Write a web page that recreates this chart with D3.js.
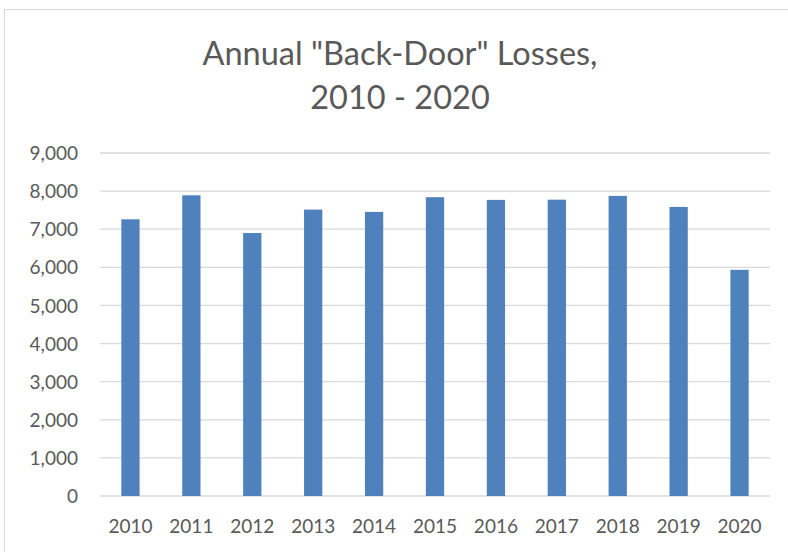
<!DOCTYPE html>
<html>
<head>
<meta charset="utf-8">
<script src="https://cdn.jsdelivr.net/npm/d3@7"></script>
<style>
  body { margin: 0; background: #fff; }
  svg text { font-family: Lato, "Open Sans", sans-serif; fill: #595959; }
</style>
</head>
<body>
<div id="chart"></div>
<script>
const years = ["2010", "2011", "2012", "2013", "2014", "2015", "2016", "2017", "2018", "2019", "2020"];
const losses = [7260, 7890, 6900, 7515, 7455, 7840, 7770, 7775, 7875, 7585, 5935];
const yTicks = [0, 1000, 2000, 3000, 4000, 5000, 6000, 7000, 8000, 9000];
const titleLines = ['Annual "Back-Door" Losses,', "2010 - 2020"];

const W = 788, H = 552;
const margin = { top: 153, right: 18, bottom: 56, left: 100 },
    width = W - margin.left - margin.right,
    height = H - margin.top - margin.bottom;

const root = d3.select("#chart")
    .append("svg")
    .attr("width", W)
    .attr("height", H);

// chart area frame
root.append("rect")
    .attr("x", 4.5).attr("y", 9.5)
    .attr("width", W + 10).attr("height", H + 10)
    .attr("fill", "none")
    .attr("stroke", "#d9d9d9");

root.selectAll("text.title")
    .data(titleLines)
    .enter().append("text")
    .attr("class", "title")
    .attr("x", 400)
    .attr("y", (d, i) => 65 + i * 44)
    .attr("text-anchor", "middle")
    .style("font-size", "32.5px")
    .text(d => d);

const svg = root.append("g")
    .attr("transform", `translate(${margin.left},${margin.top})`);

const x = d3.scaleBand().domain(years).range([0, width]).paddingInner(0.7).paddingOuter(0.35);
const y = d3.scaleLinear().domain([0, 9000]).range([height, 0]);

// gridlines
svg.selectAll("line.grid")
    .data(yTicks)
    .enter().append("line")
    .attr("x1", 0).attr("x2", width)
    .attr("y1", d => y(d)).attr("y2", d => y(d))
    .attr("stroke", "#d9d9d9")
    .attr("stroke-width", 1.3);

svg.selectAll("rect.bar")
    .data(losses)
    .enter().append("rect")
    .attr("class", "bar")
    .attr("x", (d, i) => x(years[i]))
    .attr("y", d => y(d))
    .attr("width", x.bandwidth())
    .attr("height", d => height - y(d))
    .attr("fill", "#4f81bd");

const yAxis = svg.append("g")
    .call(d3.axisLeft(y).tickValues(yTicks).tickFormat(d3.format(",")).tickSize(0).tickPadding(22));
yAxis.select(".domain").remove();
yAxis.selectAll("text").style("font-size", "19px").attr("dy", "0.35em");

const xAxis = svg.append("g")
    .attr("transform", `translate(0,${height})`)
    .call(d3.axisBottom(x).tickSize(0).tickPadding(24));
xAxis.select(".domain").remove();
xAxis.selectAll("text").style("font-size", "19px");
</script>
</body>
</html>
